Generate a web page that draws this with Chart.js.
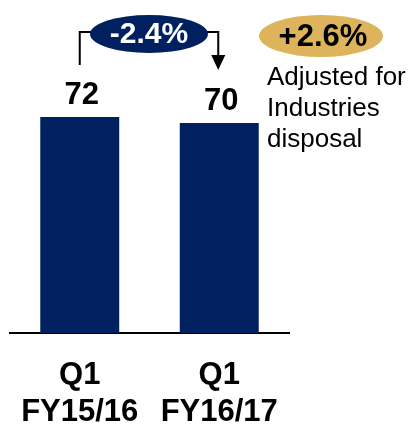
<!DOCTYPE html>
<html>
<head>
<meta charset="utf-8">
<style>
  html, body { margin: 0; padding: 0; background: #fff; }
  #wrap { width: 410px; height: 425px; position: relative; }
</style>
<script src="https://cdn.jsdelivr.net/npm/chart.js@4.4.1/dist/chart.umd.min.js"></script>
</head>
<body>
<div id="wrap"><canvas id="c" width="410" height="425"></canvas></div>
<script>
// Quarterly figures, first quarter of each fiscal year
const categories = [["Q1", "FY15/16"], ["Q1", "FY16/17"]];
const values = [72, 70];
const changeLabel = "-2.4%";
const adjustedLabel = "+2.6%";
const adjustedNote = ["Adjusted for", "Industries", "disposal"];

const NAVY = "#002060";
const GOLD = "#DDB45B";
const FONT = "'Liberation Sans', Arial, sans-serif";

function ellipse(ctx, cx, cy, rx, ry, fill) {
  ctx.beginPath();
  ctx.ellipse(cx, cy, rx, ry, 0, 0, Math.PI * 2);
  ctx.fillStyle = fill;
  ctx.fill();
}

const annotations = {
  id: "annotations",
  afterDatasetsDraw(chart) {
    const ctx = chart.ctx;
    const bars = chart.getDatasetMeta(0).data;
    ctx.save();

    // value labels above each bar
    ctx.font = "bold 31px " + FONT;
    ctx.fillStyle = "#000";
    ctx.textAlign = "center";
    ctx.textBaseline = "alphabetic";
    bars.forEach((b, i) => {
      ctx.fillText(String(values[i]), b.x + 2, b.y - 13);
    });

    // bracket arrow from first bar to second
    const x1 = bars[0].x, x2 = bars[1].x - 1;
    const yTop = 32;
    ctx.strokeStyle = "#000";
    ctx.lineWidth = 2;
    ctx.beginPath();
    ctx.moveTo(x1, 65);
    ctx.lineTo(x1, yTop);
    ctx.lineTo(x2, yTop);
    ctx.lineTo(x2, 57);
    ctx.stroke();
    ctx.fillStyle = "#000";
    ctx.beginPath();
    ctx.moveTo(x2 - 7, 55);
    ctx.lineTo(x2 + 7, 55);
    ctx.lineTo(x2, 70);
    ctx.closePath();
    ctx.fill();

    // change badge
    const mx = (x1 + x2) / 2;
    ellipse(ctx, mx, 34, 59, 19, NAVY);
    ctx.font = "bold 30px " + FONT;
    ctx.fillStyle = "#fff";
    ctx.textBaseline = "middle";
    ctx.fillText(changeLabel, mx, 35);

    // adjusted change badge and note
    ellipse(ctx, 321, 36, 62, 21, GOLD);
    ctx.font = "bold 31px " + FONT;
    ctx.fillStyle = "#000";
    ctx.fillText(adjustedLabel, 323, 37);

    ctx.font = "26px " + FONT;
    ctx.textAlign = "left";
    ctx.textBaseline = "alphabetic";
    adjustedNote.forEach((t, i) => ctx.fillText(t, 267, 85 + i * 31));

    ctx.restore();
  }
};

new Chart(document.getElementById("c"), {
  type: "bar",
  data: {
    labels: categories,
    datasets: [{
      data: values,
      backgroundColor: NAVY,
      borderWidth: 0,
      categoryPercentage: 1,
      barPercentage: 0.566
    }]
  },
  options: {
    responsive: false,
    animation: false,
    events: [],
    layout: { padding: { left: 10, right: 121, top: 33, bottom: 0 } },
    plugins: { legend: { display: false }, tooltip: { enabled: false } },
    scales: {
      y: { display: false, min: 0, max: 100 },
      x: {
        grid: { display: false },
        border: { display: true, color: "#000", width: 2 },
        afterFit(scale) { scale.height = 92; },
        ticks: {
          color: "#000",
          padding: 16,
          maxRotation: 0,
          autoSkip: false,
          font: { family: FONT, size: 31, weight: "bold", lineHeight: 1.2 }
        }
      }
    }
  },
  plugins: [annotations]
});
</script>
</body>
</html>
